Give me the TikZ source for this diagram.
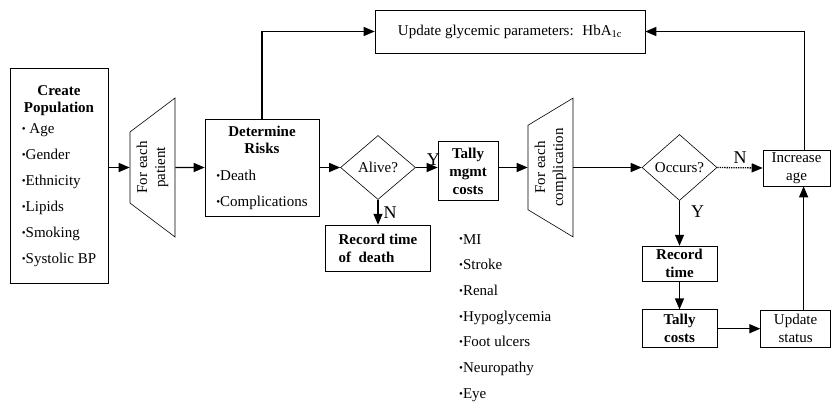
\documentclass[tikz,border=0pt]{standalone}
\usepackage{fontspec}
\setmainfont{Liberation Serif}
\usetikzlibrary{shapes.geometric,positioning,arrows.meta}

\newcommand{\figfont}{\fontsize{15}{18}\selectfont}
\newcommand{\bul}{\raisebox{0.15ex}{\fontsize{11}{11}\selectfont\textbullet}}

\tikzset{
	box/.style={draw, line width=0.6pt, rectangle, align=center, inner sep=2pt, font=\figfont},
	boldbox/.style={box, font=\figfont\bfseries},
	looper/.style={draw, line width=0.6pt, trapezium, trapezium stretches=true,
		trapezium angle=52.5, minimum width=139pt, minimum height=45pt,
		rotate=90, align=center, inner sep=1pt, font=\figfont},
	query/.style={draw, line width=0.6pt, diamond, minimum width=75pt,
		minimum height=64pt, inner sep=0pt, font=\figfont},
	flow/.style={-{Triangle[length=11pt,width=9pt]}, line width=1.3pt},
	yn/.style={font=\fontsize{18}{20}\selectfont, inner sep=1pt},
}

\begin{document}
\begin{tikzpicture}[x=1pt, y=-1pt]
		\useasboundingbox (0,0) rectangle (833,413);
		% main row
		\node[box, minimum width=98pt, minimum height=215pt] (pop) at (59,175.5) {%
			\begin{tabular}{@{}l@{}}
				\multicolumn{1}{@{}c@{}}{\textbf{Create}}\\[-1pt]
				\multicolumn{1}{@{}c@{}}{\textbf{Population}}\\[3pt]
				\bul\ Age\\[8pt]
				\bul Gender\\[8pt]
				\bul Ethnicity\\[8pt]
				\bul Lipids\\[8pt]
				\bul Smoking\\[8pt]
				\bul Systolic BP
			\end{tabular}};
		\node[looper] (pat) at (152.5,167.5) {For each\\patient};
		\node[box, minimum width=114pt, minimum height=97pt] (det) at (262,167.5) {%
			\begin{tabular}{@{}l@{}}
				\multicolumn{1}{@{}c@{}}{\textbf{Determine}}\\[-1pt]
				\multicolumn{1}{@{}c@{}}{\textbf{Risks}}\\[9pt]
				\bul Death\\[8pt]
				\bul Complications
			\end{tabular}};
		\node[query] (alive) at (378,167.5) {Alive?};
		\node[boldbox, minimum width=60pt, minimum height=59pt] (tally) at (468,171) {Tally\\mgmt\\costs};
		\node[looper] (comp) at (550.5,167.5) {For each\\complication};
		\node[query, minimum height=66pt] (occ) at (679.5,167.5) {Occurs?};
		\node[box, minimum width=67pt, minimum height=36pt, inner sep=1pt] (inc) at (796.5,168) {Increase\\age};
		% lower branches
		\node[boldbox, align=left, minimum width=105pt, minimum height=46pt, below=25pt of alive] (rec) {Record time\\of \ death};
		\node[boldbox, minimum width=75pt, minimum height=35pt, inner sep=1pt, below=45pt of occ] (rtime) {Record\\time};
		\node[boldbox, minimum width=75pt, minimum height=38pt, inner sep=1pt, below=28pt of rtime] (tcost) {Tally\\costs};
		\node[box, minimum width=70pt, minimum height=37pt, inner sep=1pt, right=43pt of tcost] (upd) {Update\\status};
		\node[box, minimum width=270pt, minimum height=43pt] (glyc) at (510,31.5) {Update glycemic parameters: \ HbA\textsubscript{1c}};
		\node[align=left, anchor=north west, inner sep=0pt, font=\figfont] (cmpl) at (459,234) {%
			\bul MI\\[7.7pt]
			\bul Stroke\\[7.7pt]
			\bul Renal\\[7.7pt]
			\bul Hypoglycemia\\[7.7pt]
			\bul Foot ulcers\\[7.7pt]
			\bul Neuropathy\\[7.7pt]
			\bul Eye};
		% connectors
		\draw[flow] (pop.east |- pat.north) -- (pat.north);
		\draw[flow] (pat.south) -- (det.west);
		\draw[flow] (det.east) -- (alive.west);
		\draw[flow] (alive.east) -- node[yn, pos=0.8, above] (ya) {Y} (alive.east -| tally.west);
		\draw[flow] (alive.south) -- node[yn, right=4pt] (na) {N} (rec.north);
		\draw[flow] (tally.east |- comp.north) -- (comp.north);
		\draw[flow] (comp.south) -- (comp.south -| occ.west);
		\draw[flow, densely dotted] (occ.east) -- node[yn, above=3pt] (no) {N} (inc.west);
		\draw[flow] (occ.south) -- node[yn, pos=0.25, right=10pt] (yo) {Y} (rtime.north);
		\draw[flow] (rtime.south) -- (tcost.north);
		\draw[flow] (tcost.east) -- (tcost.east -| upd.west);
		\draw[flow] ([xshift=8pt]upd.north) -- ([xshift=8pt]upd.north |- inc.south);
		\draw[flow] ([xshift=8pt]inc.north) |- (glyc.east);
		\draw[flow] (det.north) |- (glyc.west);
	\end{tikzpicture}
\end{document}
